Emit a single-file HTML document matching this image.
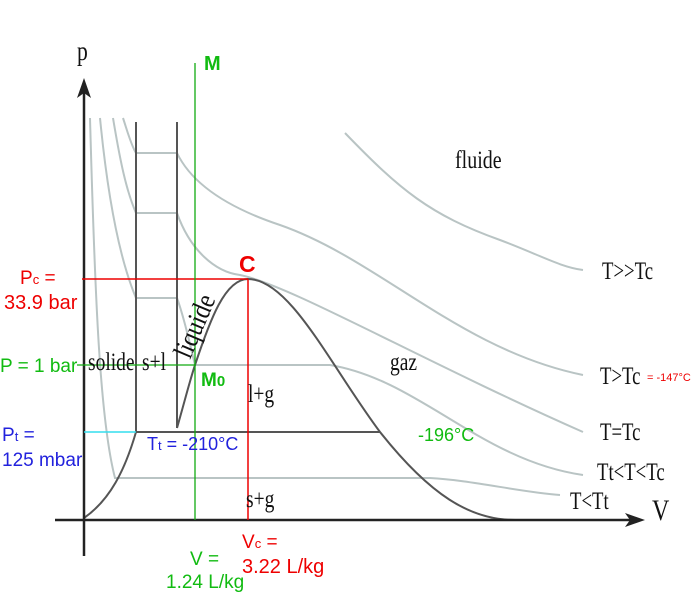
<!DOCTYPE html>
<html><head><meta charset="utf-8"><style>
html,body{margin:0;padding:0;background:#fff;}
svg{display:block;}
.s{font-family:"Liberation Serif",serif;fill:#111;}
.a{font-family:"Liberation Sans",sans-serif;}
</style></head><body>
<svg width="700" height="600" viewBox="0 0 700 600" xmlns="http://www.w3.org/2000/svg">
<g fill="none" stroke="#b9c4c4" stroke-width="2">
<path d="M90,118 C95,300 100,420 115,478 L430,478 C470,480 520,492 560,495"/>
<path d="M100,118 C108,200 120,260 136,298 L177,298 C185,320 190,345 195,365 L330,365 C420,380 480,460 583,475"/>
<path d="M113,118 C120,160 126,190 136,213 L177,213 C190,250 215,272 240,275 C290,285 420,360 583,432"/>
<path d="M123,118 C127,130 131,145 136,153 L177,153 C190,180 220,205 280,225 C380,260 460,350 583,375"/>
<path d="M345,133 C400,190 430,215 500,240 C540,255 560,267 583,270"/>
</g>
<g fill="none" stroke="#555" stroke-width="2">
<path d="M136,122 L136,432"/>
<path d="M177,122 L177,428"/>
<path d="M177,428 C185,400 190,380 195,365 C210,320 225,279 248,279 C290,279 330,365 380,432 C430,495 470,520 515,520"/>
<path d="M84,518 C110,500 125,470 136,432 L380,432"/>
</g>
<g stroke="#222" stroke-width="2.5" fill="#222">
<line x1="84" y1="90" x2="84" y2="556"/>
<line x1="55" y1="520" x2="632" y2="520"/>
<polygon points="84,78 77,98 84,93 91,98" stroke="none"/>
<polygon points="645,520 625,513 630,520 625,527" stroke="none"/>
</g>
<line x1="84" y1="432" x2="136" y2="432" stroke="#33ddee" stroke-width="1.5"/>
<g stroke="#e00" stroke-width="1.5">
<line x1="82" y1="279" x2="248" y2="279"/>
<line x1="248" y1="279" x2="248" y2="520"/>
</g>
<g stroke="#1a1" stroke-width="1.3">
<line x1="195" y1="63" x2="195" y2="520"/>
<line x1="77" y1="365" x2="195" y2="365"/>
</g>
<g class="s" font-size="25">
<text transform="translate(77,60) scale(0.8,1)" font-size="27">p</text>
<text transform="translate(652,520) scale(0.8,1)" font-size="30">V</text>
<text transform="translate(455,168) scale(0.8,1)">fluide</text>
<text transform="translate(88,370) scale(0.78,1)">solide</text>
<text transform="translate(142,370) scale(0.78,1)">s+l</text>
<text transform="translate(248,402) scale(0.78,1)">l+g</text>
<text transform="translate(390,370) scale(0.78,1)">gaz</text>
<text transform="translate(246,507) scale(0.78,1)">s+g</text>
<text transform="translate(602,279) scale(0.75,1)">T&gt;&gt;Tc</text>
<text transform="translate(600,384) scale(0.75,1)">T&gt;Tc</text>
<text transform="translate(600,440) scale(0.75,1)">T=Tc</text>
<text transform="translate(597,480) scale(0.75,1)">Tt&lt;T&lt;Tc</text>
<text transform="translate(570,509) scale(0.75,1)">T&lt;Tt</text>
<text transform="translate(190,360) rotate(-67) scale(0.85,1)" font-size="28">liquide</text>
</g>
<g class="a">
<text x="204" y="70" font-size="20" font-weight="bold" fill="#1b1">M</text>
<text x="239" y="272" font-size="23" font-weight="bold" fill="#e00">C</text>
<text x="201" y="386" font-size="19" font-weight="bold" fill="#1b1">M<tspan font-size="15">0</tspan></text>
<text x="20" y="284" font-size="19" fill="#e00">P<tspan font-size="13">c</tspan> =</text>
<text x="4" y="309" font-size="20" fill="#e00">33.9 bar</text>
<text x="0" y="372" font-size="19" fill="#1b1">P = 1 bar</text>
<text x="2" y="441" font-size="19" fill="#22d">P<tspan font-size="13">t</tspan> =</text>
<text x="2" y="466" font-size="19" fill="#22d">125 mbar</text>
<text x="147" y="450" font-size="18" fill="#22d">T<tspan font-size="13">t</tspan> = -210°C</text>
<text x="418" y="441" font-size="18" fill="#1b1">-196°C</text>
<text x="647" y="381" font-size="11" fill="#e00">= -147°C</text>
<text x="242" y="548" font-size="19" fill="#e00">V<tspan font-size="13">c</tspan> =</text>
<text x="242" y="573" font-size="20" fill="#e00">3.22 L/kg</text>
<text x="190" y="565" font-size="19" fill="#1b1">V =</text>
<text x="166" y="588" font-size="19" fill="#1b1">1.24 L/kg</text>
</g>
</svg>
</body></html>
